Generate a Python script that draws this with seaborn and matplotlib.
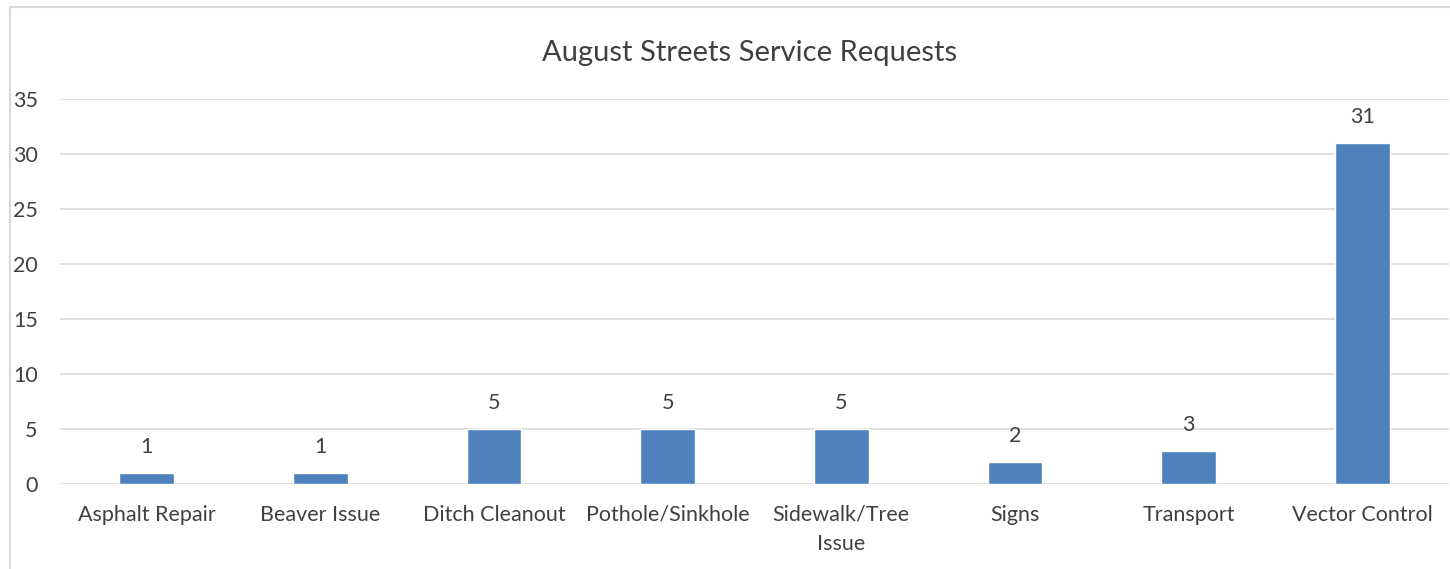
import pandas as pd
import matplotlib.pyplot as plt
import seaborn as sns
from matplotlib.patches import Rectangle

# Дані
categories = ['Asphalt Repair', 'Beaver Issue', 'Ditch Cleanout', 'Pothole/Sinkhole',
              'Sidewalk/Tree\nIssue', 'Signs', 'Transport', 'Vector Control']
requests = [1, 1, 5, 5, 5, 2, 3, 31]
y_ticks = [0, 5, 10, 15, 20, 25, 30, 35]

df = pd.DataFrame({'Category': categories, 'Requests': requests})

sns.set_theme(style='white')
plt.rcParams['font.family'] = ['Lato', 'DejaVu Sans']
text_color = '#404040'
fs = 15.5

fig = plt.figure(figsize=(14.5, 5.69), dpi=100)
ax = fig.add_axes([60 / 1450, 85 / 569, 1389 / 1450, 385 / 569])

sns.barplot(data=df, x='Category', y='Requests', color='#4F81BD', width=0.315,
            saturation=1, ax=ax, zorder=3)

ax.set_ylim(0, 35)
ax.set_yticks(y_ticks)
ax.grid(axis='y', color='#D9D9D9', linewidth=1.2, zorder=0)
for s in ax.spines.values():
    s.set_visible(False)
ax.tick_params(axis='both', length=0, labelsize=fs, colors=text_color)
ax.tick_params(axis='y', pad=16)
ax.tick_params(axis='x', pad=15)
for lbl in ax.get_xticklabels():
    lbl.set_linespacing(1.55)
ax.set_xlabel('')
ax.set_ylabel('')

for i, v in enumerate(requests):
    ax.annotate(str(v), (i, v), xytext=(0, 19), textcoords='offset points',
                ha='center', va='center', fontsize=fs, color=text_color)

fig.text(750 / 1450, 1 - 53 / 569, 'August Streets Service Requests',
         ha='center', va='center', fontsize=21, color=text_color)

# рамка діаграми
fig.patches.append(Rectangle((10 / 1450, -0.1), 1.2, 1 - 7 / 569 + 0.1,
                             transform=fig.transFigure, fill=False,
                             edgecolor='#D9D9D9', linewidth=1.5))

fig.savefig('out.png', dpi=100)
